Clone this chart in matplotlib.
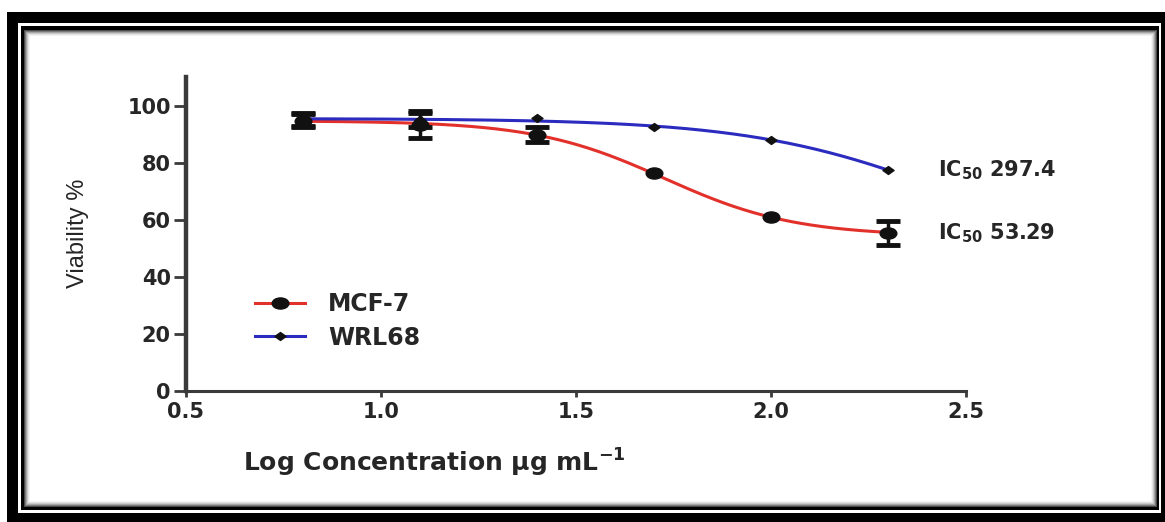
import numpy as np
import matplotlib
matplotlib.use('Agg')
import matplotlib.pyplot as plt
from matplotlib.patches import Rectangle
from matplotlib.lines import Line2D
from matplotlib.path import Path
from matplotlib.transforms import Affine2D

# ---------------- data ----------------
log_conc = [0.8, 1.1, 1.4, 1.7, 2.0, 2.3]
mcf7_viab = [94.7, 93.3, 89.8, 76.2, 61.0, 55.4]
mcf7_err = [2.3, 4.8, 2.6, 1.0, 1.0, 4.3]
wrl68_viab = [95.0, 95.0, 95.5, 92.4, 88.0, 77.4]
wrl68_err = [2.3, 2.5, 1.0, 0.5, 0.5, 0.5]
series_labels = ['MCF-7', 'WRL68']
ic50_values = [53.29, 297.4]
ic50_labels = ['53.29', '297.4']
x_ticks = [0.5, 1.0, 1.5, 2.0, 2.5]
y_ticks = [0, 20, 40, 60, 80, 100]

plt.rcParams['mathtext.fontset'] = 'dejavusans'

W, H = 1165, 522
fig = plt.figure(figsize=(W / 100, H / 100), dpi=100)
fig.patch.set_facecolor('white')


def fr(x0, y0, x1, y1):
    """pixel box (top-left origin) -> figure fraction rect"""
    return (x0 / W, 1 - y1 / H), (x1 - x0) / W, (y1 - y0) / H


def add_rect(x0, y0, x1, y1, color, z=0):
    xy, w, h = fr(x0, y0, x1, y1)
    fig.add_artist(Rectangle(xy, w, h, transform=fig.transFigure,
                             facecolor=color, edgecolor='none', zorder=z))


# frame
add_rect(7, 12, 1170, 530, 'black', -10)
add_rect(18, 23, 1161, 513, 'white', -9)
add_rect(21, 26, 1159, 510, 'black', -8)
shades = ['#4a4a4a', '#7a7a7a', '#a5a5a5', '#c8c8c8', '#e2e2e2', '#f3f3f3']
for i, c in enumerate(shades):
    add_rect(24 + i, 30 + i, 1157 - i, 507 - i, c, -7 + i * 0.1)
add_rect(30, 36, 1151, 501, 'white', -6)

# wide markers (the reference picture is horizontally stretched)
ellipse = Path.unit_circle().transformed(Affine2D().scale(1.5, 1.0))
diamond = Path([(0, 1), (1.4, 0), (0, -1), (-1.4, 0), (0, 1)],
               [Path.MOVETO, Path.LINETO, Path.LINETO, Path.LINETO, Path.CLOSEPOLY])


# ---------------- fitted curves ----------------
def fit_curve(x, y, ic50):
    x = np.asarray(x, float)
    y = np.asarray(y, float)
    c = np.log10(ic50)
    best = None
    for h in np.linspace(0.3, 8, 500):
        s = 1 / (1 + 10 ** ((x - c) * h))
        A = np.column_stack([np.ones_like(s), s])
        coef, *_ = np.linalg.lstsq(A, y, rcond=None)
        err = np.sum((A @ coef - y) ** 2)
        if best is None or err < best[0]:
            best = (err, h, coef)
    _, h, (b, amp) = best
    xs = np.linspace(x.min(), x.max(), 300)
    return xs, b + amp / (1 + 10 ** ((xs - c) * h))


def visible_errors(x, y, e, min_err=2.0):
    """error bars shorter than the marker are hidden behind it (as in GraphPad)"""
    idx = [i for i, v in enumerate(e) if v >= min_err]
    return ([x[i] for i in idx], [y[i] for i in idx], [e[i] for i in idx])


ax = fig.add_axes([186 / W, 131 / H, 780 / W, 314 / H])
ax.set_facecolor('none')

red = '#e2302b'
blue = '#2b2bbf'
txt = '#262626'

xs, ys = fit_curve(log_conc, mcf7_viab, ic50_values[0])
ax.plot(xs, ys, color=red, lw=2.2, zorder=2)
xs, ys = fit_curve(log_conc, wrl68_viab, ic50_values[1])
ax.plot(xs, ys, color=blue, lw=2.2, zorder=3)

ex, ey, ee = visible_errors(log_conc, mcf7_viab, mcf7_err)
ax.errorbar(ex, ey, yerr=ee, fmt='none', ecolor='#111111',
            capsize=8.5, elinewidth=2.5, capthick=3.5, zorder=4)
ax.plot(log_conc, mcf7_viab, linestyle='none', marker=ellipse, ms=12,
        color='#111111', zorder=4)
ex, ey, ee = visible_errors(log_conc, wrl68_viab, wrl68_err)
ax.errorbar(ex, ey, yerr=ee, fmt='none', ecolor='#111111',
            capsize=8.5, elinewidth=2.5, capthick=3.5, zorder=5)
ax.plot(log_conc, wrl68_viab, linestyle='none', marker=diamond, ms=8,
        color='#111111', zorder=5)

ax.set_xlim(0.5, 2.5)
ax.set_ylim(0, 110)
ax.set_xticks(x_ticks)
ax.set_yticks(y_ticks)
ax.set_xticklabels([f'{v:.1f}' for v in x_ticks])
ax.set_yticklabels([str(v) for v in y_ticks])
for s in ['top', 'right']:
    ax.spines[s].set_visible(False)
ax.spines['left'].set_linewidth(3.2)
ax.spines['bottom'].set_linewidth(2.2)
ax.spines['left'].set_color('#3a3a3a')
ax.spines['bottom'].set_color('#3a3a3a')
ax.tick_params(axis='y', direction='out', length=9, width=2, pad=2,
               colors='#3a3a3a', labelcolor=txt)
ax.tick_params(axis='x', direction='out', length=4, width=2, pad=4,
               colors='#3a3a3a', labelcolor=txt)
for lab in ax.get_xticklabels() + ax.get_yticklabels():
    lab.set_fontfamily('DejaVu Sans')
    lab.set_fontweight('bold')
    lab.set_fontsize(15)

# IC50 annotations
last_vals = [mcf7_viab[-1], wrl68_viab[-1]]
for val, lab in zip(last_vals, ic50_labels):
    ax.annotate(r'IC$_{\mathbf{50}}$ ' + lab, xy=(log_conc[-1], val),
                xytext=(36, 0), textcoords='offset points', va='center',
                ha='left', fontsize=15, fontweight='bold',
                fontfamily='DejaVu Sans', color=txt)

# legend
handles = [
    Line2D([], [], color=red, lw=2.2, marker=ellipse, ms=12, mfc='#111111', mec='#111111'),
    Line2D([], [], color=blue, lw=2.2, marker=diamond, ms=8, mfc='#111111', mec='#111111'),
]
leg = fig.legend(handles, series_labels, loc='center left',
                 bbox_to_anchor=(255 / W, 1 - 321 / H), frameon=False,
                 borderaxespad=0, borderpad=0, handlelength=2.1,
                 handletextpad=1.0, labelspacing=0.4,
                 prop={'family': 'DejaVu Sans', 'weight': 'bold', 'size': 17})
for t in leg.get_texts():
    t.set_color(txt)

# axis labels
fig.text(78 / W, 1 - 233 / H, 'Viability %', rotation=90, ha='center',
         va='center', fontsize=17, fontfamily='Liberation Sans', color=txt)
fig.text(243 / W, 1 - 463 / H, r'Log Concentration µg mL$^{\mathbf{-1}}$',
         ha='left', va='center', fontsize=18, fontweight='bold',
         fontfamily='DejaVu Sans', color=txt)

fig.savefig('out.png', dpi=100, facecolor='white')
